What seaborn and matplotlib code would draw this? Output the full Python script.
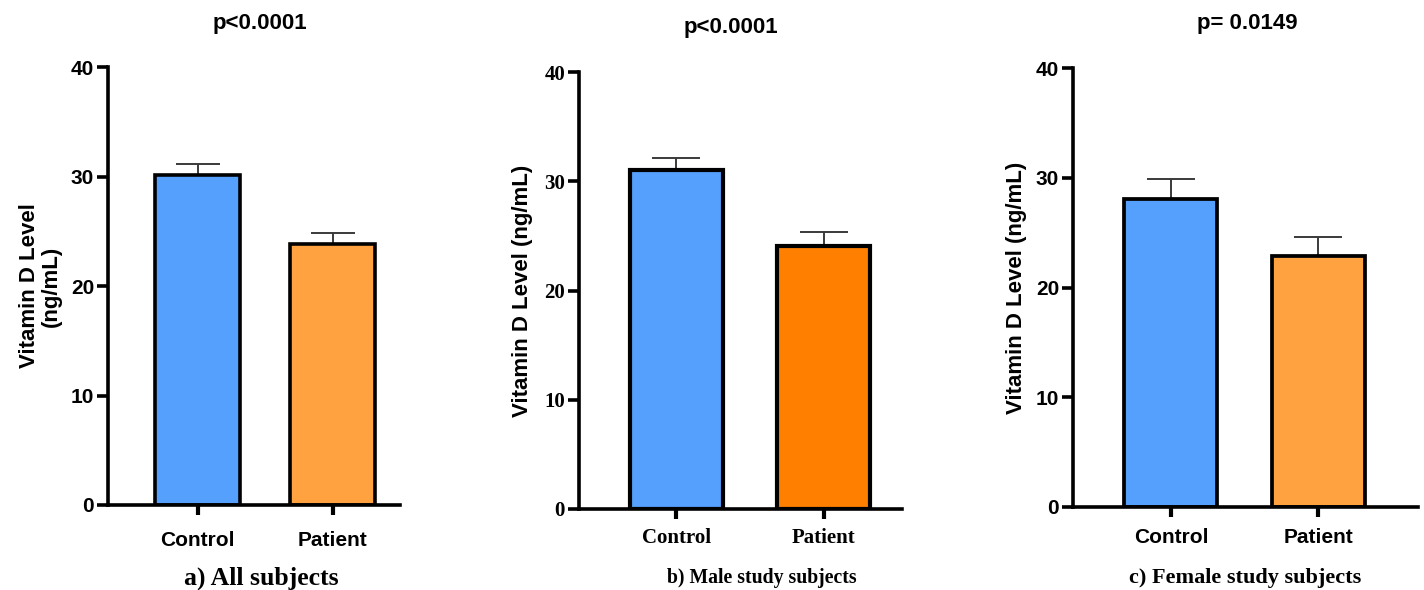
import matplotlib
matplotlib.use("Agg")
import matplotlib.pyplot as plt
import seaborn as sns
import pandas as pd

sns.set_style("ticks")
plt.rcParams["font.family"] = ["Liberation Sans", "DejaVu Sans"]
plt.rcParams["text.color"] = "black"
plt.rcParams["axes.labelcolor"] = "black"
plt.rcParams["xtick.color"] = "black"
plt.rcParams["ytick.color"] = "black"

categories = ["Control", "Patient"]
all_means = [30.1, 23.8]
all_err = [1.0, 1.0]
male_means = [31.0, 24.1]
male_err = [1.1, 1.3]
female_means = [28.1, 22.9]
female_err = [1.8, 1.7]
p_texts = ["p<0.0001", "p<0.0001", "p= 0.0149"]
panel_labels = ["a) All subjects", "b) Male study subjects", "c) Female study subjects"]
ylabels = ["Vitamin D Level\n(ng/mL)", "Vitamin D Level (ng/mL)", "Vitamin D Level (ng/mL)"]
yticks = [0, 10, 20, 30, 40]

BLUE = "#55A0FC"
ORANGE_L = "#FFA23F"
ORANGE_D = "#FF7F00"

W, H = 1424, 590
fig = plt.figure(figsize=(W / 100, H / 100), dpi=100)

# panel geometry in pixels: left, right, y(0), y(40)
geo = [(108, 400, 505, 67), (579, 902, 509, 72), (1073, 1418, 507, 68)]
xlims = [(-0.663, 1.50), (-0.661, 1.53), (-0.664, 1.675)]
means_list = [all_means, male_means, female_means]
err_list = [all_err, male_err, female_err]
colors_list = [[BLUE, ORANGE_L], [BLUE, ORANGE_D], [BLUE, ORANGE_L]]
tick_serif = [False, True, False]
ylab_x = [-0.158, -0.142, -0.133]
caps = [16, 17.5, 17.5]
xpads = [12, 7, 8]
title_pos = [(260, 24), (731, 27), (1247, 24)]
label_pos = [(261, 578), (762, 578), (1245, 578)]
label_sizes = [18.5, 14.2, 16]
edge_lw = [2.6, 3.0, 2.7]

for i in range(3):
    l, r, y0, y40 = geo[i]
    ax = fig.add_axes([l / W, (H - y0) / H, (r - l) / W, (y0 - y40) / H])
    df = pd.DataFrame({"group": categories, "value": means_list[i]})
    sns.barplot(data=df, x="group", y="value", hue="group", palette=colors_list[i],
                legend=False, width=0.63, edgecolor="black", linewidth=edge_lw[i],
                saturation=1, errorbar=None, ax=ax, zorder=2)
    ax.errorbar(x=[0, 1], y=means_list[i], yerr=[[0, 0], err_list[i]], fmt="none",
                ecolor="#3a3a3a", elinewidth=1.4, capsize=caps[i], capthick=1.4, zorder=1)
    ax.set_xlim(*xlims[i])
    ax.set_ylim(0, 40)
    ax.set_yticks(yticks)
    sns.despine(ax=ax)
    for s in ["left", "bottom"]:
        ax.spines[s].set_linewidth(2.6)
        ax.spines[s].set_color("black")
    ax.tick_params(axis="y", length=8, width=2.6, pad=2, color="black", labelcolor="black")
    ax.tick_params(axis="x", length=7, width=3, pad=xpads[i], color="black", labelcolor="black")
    ax.set_xlabel("")
    if tick_serif[i]:
        fam = ["Liberation Serif", "DejaVu Serif"]
        for t in ax.get_xticklabels() + ax.get_yticklabels():
            t.set_family(fam)
            t.set_fontweight("bold")
            t.set_fontsize(15)
    else:
        for t in ax.get_yticklabels() + ax.get_xticklabels():
            t.set_fontweight("bold")
            t.set_fontsize(15)
    ax.set_ylabel(ylabels[i], fontsize=16, fontweight="bold", linespacing=1.05, color="black")
    ax.yaxis.set_label_coords(ylab_x[i], 0.5)
    tx, ty = title_pos[i]
    fig.text(tx / W, 1 - ty / H, p_texts[i], ha="center", va="center",
             fontsize=16, fontweight="bold", color="black")
    lx, ly = label_pos[i]
    fig.text(lx / W, 1 - ly / H, panel_labels[i], ha="center", va="center",
             fontsize=label_sizes[i], fontweight="bold", color="black",
             family=["Liberation Serif", "DejaVu Serif"])

fig.savefig("out.png", dpi=100, facecolor="white")
